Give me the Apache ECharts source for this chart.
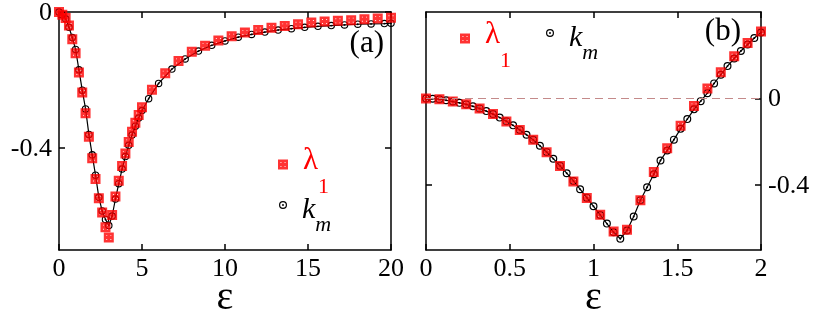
<!DOCTYPE html>
<html>
<head>
<meta charset="utf-8">
<script src="https://cdn.jsdelivr.net/npm/echarts@6/dist/echarts.min.js"></script>
<style>html,body{margin:0;padding:0;background:#fff}#c{width:820px;height:314px}</style>
</head>
<body>
<div id="c"></div>
<script>
// ---- data, panel (a) ----
const lamAX = [0,0.2,0.4,0.6,0.8,1.0,1.2,1.4,1.6,1.8,2.0,2.2,2.4,2.6,2.8,3.0,3.2,3.4,3.6,3.8,4.0,4.2,4.4,4.6,4.8,5.0,5.6,6.4,7.2,8.0,8.8,9.6,10.4,11.2,12.0,12.8,13.6,14.4,15.2,16.0,16.8,17.6,18.4,19.2,20.0];
const lamAY = [0,-0.008,-0.018,-0.040,-0.080,-0.121,-0.178,-0.237,-0.298,-0.367,-0.430,-0.491,-0.548,-0.590,-0.633,-0.663,-0.597,-0.543,-0.496,-0.453,-0.416,-0.382,-0.352,-0.326,-0.303,-0.280,-0.229,-0.180,-0.144,-0.117,-0.099,-0.084,-0.071,-0.060,-0.053,-0.046,-0.041,-0.036,-0.031,-0.028,-0.026,-0.024,-0.021,-0.019,-0.017];
const kmAX = [0,0.2,0.4,0.6,0.8,1.0,1.2,1.4,1.6,1.8,2.0,2.2,2.4,2.6,2.8,3.0,3.2,3.4,3.6,3.8,4.0,4.2,4.4,4.6,4.8,5.0,5.4,6.0,6.8,7.6,8.4,9.2,10.0,10.8,11.6,12.4,13.2,14.0,14.8,15.6,16.4,17.2,18.0,18.8,19.6,20.0];
const kmAY = [0,-0.008,-0.020,-0.045,-0.075,-0.110,-0.170,-0.230,-0.285,-0.360,-0.420,-0.480,-0.545,-0.585,-0.610,-0.628,-0.600,-0.550,-0.505,-0.462,-0.425,-0.392,-0.362,-0.336,-0.312,-0.290,-0.255,-0.210,-0.168,-0.138,-0.115,-0.098,-0.085,-0.074,-0.066,-0.059,-0.053,-0.049,-0.045,-0.042,-0.040,-0.038,-0.036,-0.035,-0.034,-0.033];
// ---- data, panel (b) ----
const lamBX = [0,0.08,0.16,0.24,0.32,0.40,0.48,0.56,0.64,0.72,0.80,0.88,0.96,1.04,1.12,1.20,1.28,1.36,1.44,1.52,1.60,1.68,1.76,1.84,1.92,2.00];
const lamBY = [0,-0.003,-0.014,-0.026,-0.046,-0.072,-0.106,-0.145,-0.191,-0.248,-0.312,-0.383,-0.460,-0.537,-0.615,-0.606,-0.470,-0.340,-0.230,-0.126,-0.034,0.047,0.122,0.195,0.257,0.310];
const kmBX = [0,0.04,0.08,0.12,0.16,0.20,0.24,0.28,0.32,0.36,0.40,0.44,0.48,0.52,0.56,0.60,0.64,0.68,0.72,0.76,0.80,0.84,0.88,0.92,0.96,1.00,1.04,1.08,1.12,1.16,1.20,1.24,1.28,1.32,1.36,1.40,1.44,1.48,1.52,1.56,1.60,1.64,1.68,1.72,1.76,1.80,1.84,1.88,1.92,1.96,2.00];
const kmBY = [0,-0.001,-0.003,-0.008,-0.014,-0.020,-0.027,-0.036,-0.046,-0.058,-0.072,-0.088,-0.105,-0.124,-0.145,-0.167,-0.191,-0.218,-0.247,-0.278,-0.311,-0.345,-0.381,-0.419,-0.458,-0.498,-0.538,-0.578,-0.618,-0.648,-0.610,-0.545,-0.470,-0.410,-0.350,-0.286,-0.240,-0.190,-0.140,-0.095,-0.050,-0.012,0.025,0.070,0.110,0.150,0.185,0.220,0.250,0.280,0.305];
// ---- tick labels ----
const xTicksA = [0,5,10,15,20];
const xTicksB = [0,0.5,1,1.5,2];
const yTicks = [-0.4,0];
const yTickLabels = ['-0.4','0'];
const panelLabels = ['(a)','(b)'];

const FONT = "'Liberation Serif', 'Times New Roman', 'DejaVu Serif', serif";
const RED = '#ff0000';
const SQ = 'path://M0,0H10V10H0Z M2.5,2.5V3.4H3.4V2.5Z M6.6,2.5V3.4H7.5V2.5Z M2.5,6.6V7.5H3.4V6.6Z M6.6,6.6V7.5H7.5V6.6Z';
const CI = 'path://M5,0A5,5 0 1,1 5,10A5,5 0 1,1 5,0Z M5,1.5A3.5,3.5 0 1,0 5,8.5A3.5,3.5 0 1,0 5,1.5Z M5,3.8A1.2,1.2 0 1,1 5,6.2A1.2,1.2 0 1,1 5,3.8Z';

const zip = (xs, ys) => xs.map((x, i) => [x, ys[i]]);

const lineW = 1.5;
function xAx(grid, min, max, interval, pos, showName) {
  return {
    type: 'value', gridIndex: grid, position: pos, min, max, interval,
    axisLine: {show: true, onZero: false, lineStyle: {color: '#000', width: lineW}},
    axisTick: {show: true, inside: true, length: 6, lineStyle: {color: '#000', width: lineW}},
    axisLabel: {show: false},
    splitLine: {show: false},
    name: showName ? 'ε' : '', nameLocation: 'middle', nameGap: 28,
    nameTextStyle: {color: '#000', fontFamily: FONT, fontSize: 40}
  };
}
function yAx(grid, min, max, pos) {
  return {
    type: 'value', gridIndex: grid, position: pos, min, max, interval: 0.1,
    axisLine: {show: true, onZero: false, lineStyle: {color: '#000', width: lineW}},
    axisTick: {show: true, inside: true, length: 6, lineStyle: {color: '#000', width: lineW}, customValues: yTicks},
    axisLabel: {show: false},
    splitLine: {show: false}
  };
}

const rich = {
  l: {fontFamily: FONT, fontSize: 31, color: RED, padding: [0, 0, 8, 10]},
  s: {fontFamily: FONT, fontSize: 22, color: RED, padding: [46, 0, 0, 0]},
  k: {fontFamily: FONT, fontStyle: 'italic', fontSize: 30, color: '#000', padding: [10, 0, 0, 10]},
  m: {fontFamily: FONT, fontStyle: 'italic', fontSize: 22, color: '#000', padding: [40, 0, 0, 0]}
};
const fmt = name => name.startsWith('lam') ? '{l|λ}{s|1}' : '{k|k}{m|m}';
function leg(name, icon, w, left, top) {
  return {
    show: true, left, top, padding: 0, itemGap: 0, itemWidth: w, itemHeight: w,
    data: [{name, icon}], formatter: fmt, textStyle: {fontFamily: FONT, rich}, selectedMode: false
  };
}

const option = {
  animation: false,
  backgroundColor: '#fff',
  textStyle: {fontFamily: FONT},
  grid: [
    {left: 59, top: 12, width: 332, height: 238, containLabel: false, outerBoundsMode: 'none'},
    {left: 426, top: 12, width: 335, height: 238, containLabel: false, outerBoundsMode: 'none'}
  ],
  xAxis: [
    xAx(0, 0, 20, 5, 'bottom', true),
    xAx(0, 0, 20, 5, 'top', false),
    xAx(1, 0, 2, 0.5, 'bottom', true),
    xAx(1, 0, 2, 0.5, 'top', false)
  ],
  yAxis: [
    yAx(0, -0.7, 0, 'left'),
    yAx(0, -0.7, 0, 'right'),
    yAx(1, -0.7, 0.4, 'left'),
    yAx(1, -0.7, 0.4, 'right')
  ],
  legend: [
    leg('lam_a', SQ, 10, 278, 145),
    leg('km_a', CI, 8, 279, 195),
    leg('lam_b', SQ, 10, 460, 19),
    leg('km_b', CI, 8, 546, 23)
  ],
  series: [
    {name: 'km_a', type: 'line', xAxisIndex: 0, yAxisIndex: 0, data: zip(kmAX, kmAY),
     symbol: CI, symbolSize: 7.5, showAllSymbol: true, itemStyle: {color: '#000', borderWidth: 0},
     lineStyle: {color: '#000', width: 1.2}, z: 2},
    {name: 'lam_a', type: 'scatter', xAxisIndex: 0, yAxisIndex: 0, data: zip(lamAX, lamAY),
     symbol: SQ, symbolSize: 10, itemStyle: {color: RED}, z: 3},
    {name: 'km_b', type: 'line', xAxisIndex: 2, yAxisIndex: 2, data: zip(kmBX, kmBY),
     symbol: CI, symbolSize: 8, showAllSymbol: true, itemStyle: {color: '#000', borderWidth: 0},
     lineStyle: {color: '#000', width: 1.2}, z: 2},
    {name: 'lam_b', type: 'scatter', xAxisIndex: 2, yAxisIndex: 2, data: zip(lamBX, lamBY),
     symbol: SQ, symbolSize: 10, itemStyle: {color: RED}, z: 3,
     markLine: {silent: true, symbol: ['none', 'none'], label: {show: false},
       lineStyle: {type: [8, 5], color: '#c48a8a', width: 1}, data: [{yAxis: 0}]}}
  ]
};
const chart = echarts.init(document.getElementById('c'), null, {renderer: 'canvas'});
chart.setOption(option);

// tick labels placed through the axes' own scales (recomputed on resize)
const TS = {fontFamily: FONT, fontSize: 26, fill: '#000'};
const px = (axis, idx, v) => chart.convertToPixel({[axis]: idx}, v);
function placeLabels() {
  const g = [];
  const addX = (xi, yi, ticks, yMin) => {
    const yb = px('yAxisIndex', yi, yMin);
    ticks.forEach((v, i) => g.push({type: 'text', id: 'x' + xi + '_' + i, x: px('xAxisIndex', xi, v), y: yb + 6,
      style: Object.assign({text: String(v), align: 'center', verticalAlign: 'top'}, TS)}));
  };
  addX(0, 0, xTicksA, -0.7);
  addX(2, 2, xTicksB, -0.7);
  const xl = px('xAxisIndex', 0, 0);
  yTicks.forEach((v, i) => g.push({type: 'text', id: 'ya' + i, x: xl - 7, y: px('yAxisIndex', 0, v) + 1,
    style: Object.assign({text: yTickLabels[i], align: 'right', verticalAlign: 'middle'}, TS)}));
  const xr = px('xAxisIndex', 2, 2);
  yTicks.forEach((v, i) => g.push({type: 'text', id: 'yb' + i, x: xr + 7, y: px('yAxisIndex', 2, v) + 1,
    style: Object.assign({text: yTickLabels[i], align: 'left', verticalAlign: 'middle'}, TS)}));
  g.push({type: 'text', id: 'pa', right: 820 - 384, top: 28, style: {text: panelLabels[0], fontFamily: FONT, fontSize: 31, fill: '#000'}});
  g.push({type: 'text', id: 'pb', right: 820 - 741, top: 16, style: {text: panelLabels[1], fontFamily: FONT, fontSize: 31, fill: '#000'}});
  chart.setOption({graphic: g});
}
placeLabels();
window.addEventListener('resize', () => { chart.resize(); placeLabels(); });
</script>
</body>
</html>
